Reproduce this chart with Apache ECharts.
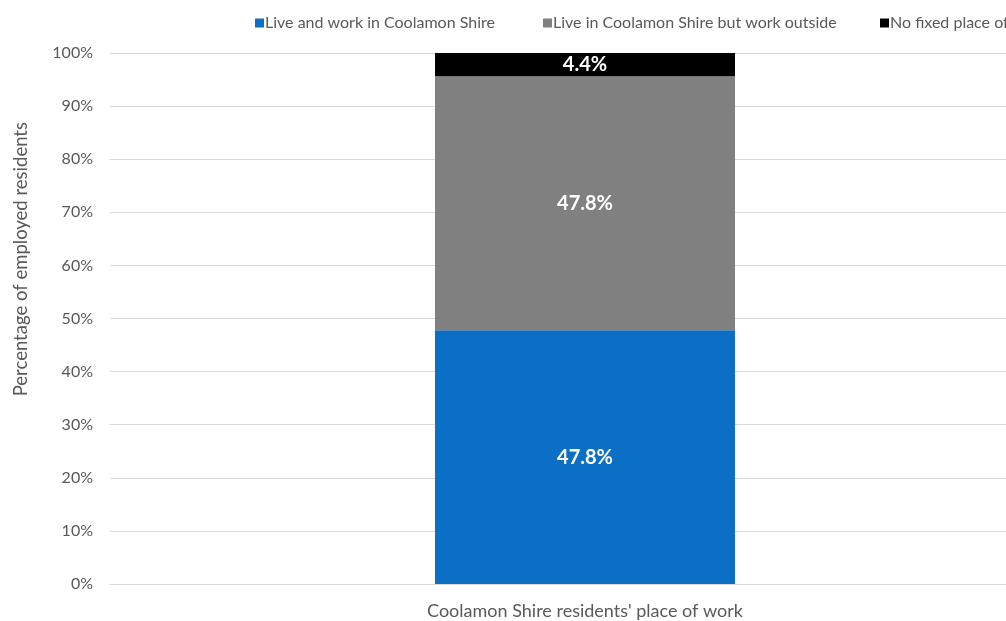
<!DOCTYPE html>
<html>
<head>
<meta charset="utf-8">
<script src="https://cdn.jsdelivr.net/npm/echarts@6/dist/echarts.min.js"></script>
<style>
  html, body { margin: 0; padding: 0; background: #fff; }
  #chart { width: 1006px; height: 621px; }
</style>
</head>
<body>
<div id="chart"></div>
<script>
// Place of work for employed residents, share of total (%)
const categories = ["Coolamon Shire residents' place of work"];
const seriesNames = [
  'Live and work in Coolamon Shire',
  'Live in Coolamon Shire but work outside',
  'No fixed place of work'
];
const liveAndWork = [47.8];
const workOutside = [47.8];
const noFixedPlace = [4.4];
const yTicks = [0, 10, 20, 30, 40, 50, 60, 70, 80, 90, 100];
const colors = ['#0A6FC5', '#808080', '#000000'];

const font = 'Lato, "Open Sans", sans-serif';

const labelStyle = {
  show: true,
  position: 'inside',
  color: '#fff',
  fontFamily: font,
  fontWeight: 'bold',
  fontSize: 20,
  formatter: p => p.value.toFixed(1) + '%'
};

// one legend block per series so each entry sits at its own x
const legendLefts = [255, 543, 880];
const legends = seriesNames.map((name, i) => ({
  data: [name],
  left: legendLefts[i],
  top: 15,
  padding: 0,
  itemWidth: 9,
  itemHeight: 9,
  icon: 'rect',
  textStyle: { color: '#595959', fontFamily: font, fontSize: 16, padding: [0, 0, 0, -4] }
}));

const chart = echarts.init(document.getElementById('chart'), null, { renderer: 'canvas' });
chart.setOption({
  animation: false,
  color: colors,
  legend: legends,
  grid: { left: 110, top: 53, bottom: 37, width: 950, outerBoundsMode: 'none' },
  xAxis: {
    type: 'category',
    data: categories,
    axisLine: { lineStyle: { color: '#d9d9d9' } },
    axisTick: { show: false },
    axisLabel: { color: '#595959', fontFamily: font, fontSize: 18, margin: 18 }
  },
  yAxis: {
    type: 'value',
    min: yTicks[0],
    max: yTicks[yTicks.length - 1],
    interval: 10,
    axisLine: { show: false },
    axisTick: { show: false },
    splitLine: { lineStyle: { color: '#d9d9d9' } },
    axisLabel: { color: '#595959', fontFamily: font, fontSize: 16, margin: 17, formatter: v => v + '%' }
  },
  graphic: [{
    type: 'text',
    left: 12,
    top: 122,
    rotation: Math.PI / 2,
    style: {
      text: 'Percentage of employed residents',
      fill: '#595959',
      font: '18.5px ' + font
    }
  }],
  series: [
    { name: seriesNames[0], type: 'bar', stack: 'total', data: liveAndWork, barWidth: 300, label: labelStyle },
    { name: seriesNames[1], type: 'bar', stack: 'total', data: workOutside, barWidth: 300, label: labelStyle },
    { name: seriesNames[2], type: 'bar', stack: 'total', data: noFixedPlace, barWidth: 300, label: labelStyle }
  ]
});
</script>
</body>
</html>
